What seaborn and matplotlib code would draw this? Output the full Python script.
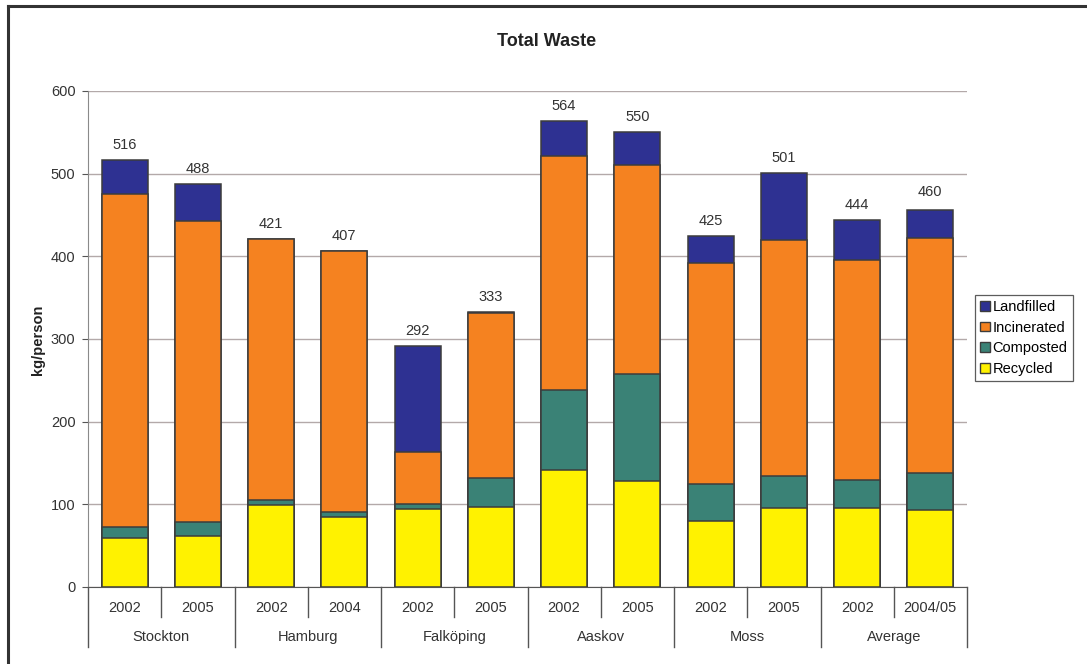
import matplotlib
matplotlib.use("Agg")
import matplotlib.pyplot as plt
import matplotlib.transforms as mtransforms
from matplotlib.patches import Rectangle
from matplotlib.lines import Line2D
import seaborn as sns
import pandas as pd
import numpy as np

# ---- data ----
cities = ["Stockton", "Stockton", "Hamburg", "Hamburg", "Falköping", "Falköping",
          "Aaskov", "Aaskov", "Moss", "Moss", "Average", "Average"]
years = ["2002", "2005", "2002", "2004", "2002", "2005",
         "2002", "2005", "2002", "2005", "2002", "2004/05"]
groups = ["Stockton", "Hamburg", "Falköping", "Aaskov", "Moss", "Average"]
recycled = [59, 62, 99, 85, 94, 97, 142, 128, 80, 96, 95, 93]
composted = [13, 17, 6, 6, 7, 35, 96, 130, 45, 38, 34, 45]
incinerated = [404, 364, 316, 316, 62, 199, 283, 252, 267, 286, 266, 284]
landfilled = [40, 45, 0, 0, 129, 2, 43, 40, 33, 81, 49, 34]
total_labels = [516, 488, 421, 407, 292, 333, 564, 550, 425, 501, 444, 460]
series_names = ["Landfilled", "Incinerated", "Composted", "Recycled"]
series_colors = ["#2e3192", "#f58220", "#3a8276", "#fff200"]

keys = [f"{c} {y}" for c, y in zip(cities, years)]
df = pd.DataFrame({"key": keys, "Recycled": recycled, "Composted": composted,
                   "Incinerated": incinerated, "Landfilled": landfilled})
df["c_rec"] = df["Recycled"]
df["c_com"] = df["c_rec"] + df["Composted"]
df["c_inc"] = df["c_com"] + df["Incinerated"]
df["c_lan"] = df["c_inc"] + df["Landfilled"]

plt.rcParams["font.family"] = ["Liberation Sans", "DejaVu Sans"]

FS = 10.5
W, H = 1087, 664
fig = plt.figure(figsize=(W / 100, H / 100), dpi=100)
L, R, T, B = 88, 967, 91, 587
ax = fig.add_axes([L / W, 1 - B / H, (R - L) / W, (B - T) / H])

edge = "#3c3c3c"
for col, color in zip(["c_lan", "c_inc", "c_com", "c_rec"], series_colors):
    sns.barplot(data=df, x="key", y=col, order=keys, color=color, saturation=1,
                width=0.63, edgecolor=edge, linewidth=1.1, ax=ax, zorder=3)

ax.set_xlim(-0.5, len(keys) - 0.5)
ax.set_ylim(0, 600)
ax.set_yticks(np.arange(0, 601, 100))
ax.yaxis.grid(True, color="#b3a9a9", linewidth=1.0, zorder=0)
ax.set_axisbelow(True)
ax.set_xlabel("")
ax.set_ylabel("")
ax.set_xticks([])
for s in ["top", "right"]:
    ax.spines[s].set_visible(False)
ax.spines["left"].set_color("#8a8a8a")
ax.spines["bottom"].set_color("#555555")
ax.tick_params(axis="y", length=4, color="#555555", labelsize=FS,
               labelcolor="#333333", pad=5)
ax.set_facecolor("white")

# value labels
for i, v in enumerate(total_labels):
    ax.annotate(str(v), xy=(i, v), xytext=(0, 8), textcoords="offset pixels",
                ha="center", va="bottom", fontsize=FS, color="#333333")

# two-level category axis
trans = mtransforms.blended_transform_factory(ax.transData, ax.transAxes)
ph = B - T
for i in range(len(keys) + 1):
    xpos = i - 0.5
    depth = 60 if i % 2 == 0 else 30
    ax.add_line(Line2D([xpos, xpos], [0, -depth / ph], transform=trans,
                       color="#555555", linewidth=1.0, clip_on=False))
for i, y in enumerate(years):
    ax.text(i, -21 / ph, y, transform=trans, ha="center", va="center",
            fontsize=FS, color="#333333")
for g, name in enumerate(groups):
    ax.text(2 * g + 0.5, -50 / ph, name, transform=trans, ha="center",
            va="center", fontsize=FS, color="#333333")

# title and y label
fig.text(547 / W, 1 - 41 / H, "Total Waste", ha="center", va="center",
         fontsize=13, fontweight="bold", color="#222222")
fig.text(38 / W, 1 - 340 / H, "kg/person", ha="center", va="center",
         rotation=90, fontsize=FS, fontweight="bold", color="#222222")

# legend
handles = [Rectangle((0, 0), 1, 1, facecolor=c, edgecolor=edge, linewidth=1.0)
           for c in series_colors]
leg = fig.legend(handles, series_names, loc="upper left",
                 bbox_to_anchor=(975 / W, 1 - 295 / H), borderaxespad=0,
                 fontsize=FS, frameon=True, fancybox=False, handlelength=0.65,
                 handleheight=0.65, handletextpad=0.2, labelspacing=0.45,
                 borderpad=0.35)
leg.get_frame().set_edgecolor("#333333")
leg.get_frame().set_linewidth(0.9)

# outer chart frame (left and top edges visible)
fig.add_artist(Line2D([8 / W, 8 / W], [0, 1 - 6 / H], transform=fig.transFigure,
                      color="#333333", linewidth=2.2))
fig.add_artist(Line2D([8 / W, 1], [1 - 6 / H, 1 - 6 / H], transform=fig.transFigure,
                      color="#333333", linewidth=2.2))

fig.savefig("out.png", dpi=100, facecolor="white")
